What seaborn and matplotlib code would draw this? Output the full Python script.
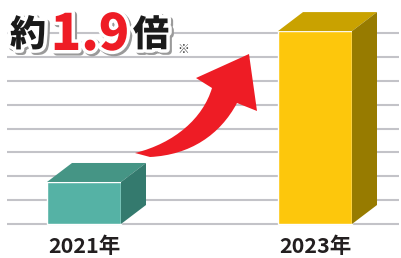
import numpy as np
import pandas as pd
import seaborn as sns
import matplotlib.pyplot as plt
import matplotlib.patheffects as pe
from matplotlib.patches import Polygon, PathPatch
from matplotlib.path import Path
from matplotlib.transforms import Affine2D

# data (values in grid-line units)
years = ['2021年', '2023年']
values = [1.76, 8.08]
front_colors = ['#55B2A5', '#FDC70C']
top_colors = ['#459585', '#C9A200']
side_colors = ['#347A6E', '#977B00']

sns.set_style('white')
plt.rcParams['font.family'] = ['Noto Sans CJK JP', 'DejaVu Sans']

W, H = 401, 258
fig = plt.figure(figsize=(W / 100, H / 100), dpi=100)

# axes placed in pixel terms
ax_left, ax_right, ax_top, ax_bottom = 7, 399, 0, 228
ax = fig.add_axes([ax_left / W, 1 - ax_bottom / H,
                   (ax_right - ax_left) / W, (ax_bottom - ax_top) / H])

grid_px = 23.875   # pixels per grid unit
cat_px = 231       # pixels between bar centres

df = pd.DataFrame({'year': years, 'value': values})
sns.barplot(data=df, x='year', y='value', hue='year', palette=front_colors,
            width=74 / cat_px, legend=False, ax=ax, saturation=1, zorder=3)

ax.set_xlim(-(84 - ax_left) / cat_px, 1 + (ax_right - 315) / cat_px)
ax.set_ylim(-(ax_bottom - 224) / grid_px, (224 - ax_top) / grid_px)

# 3d faces: depth offset in data units
dx = 25 / cat_px
dy = 19 / grid_px
for p, tc, sc in zip(ax.patches, top_colors, side_colors):
    x0 = p.get_x()
    x1 = x0 + p.get_width()
    h = p.get_height()
    ax.add_patch(Polygon([(x0, h), (x1, h), (x1 + dx, h + dy), (x0 + dx, h + dy)],
                         closed=True, facecolor=tc, edgecolor='none', zorder=3))
    ax.add_patch(Polygon([(x1, 0), (x1 + dx, dy), (x1 + dx, h + dy), (x1, h)],
                         closed=True, facecolor=sc, edgecolor='none', zorder=3))

ax.set_yticks(range(0, 9))
ax.yaxis.grid(True, color='#C3C3C8', linewidth=1.5)
ax.set_axisbelow(True)
ax.tick_params(axis='y', left=False, labelleft=False)
ax.tick_params(axis='x', bottom=False, pad=2, labelsize=15.5, labelcolor='#231F20')
for lbl in ax.get_xticklabels():
    lbl.set_fontweight('bold')
ax.set_xlabel('')
ax.set_ylabel('')
sns.despine(ax=ax, left=True, bottom=True)
ax.patch.set_alpha(0)

# curved red arrow (pixel coordinates, y downward)
px = Affine2D().scale(1 / W, -1 / H).translate(0, 1) + fig.transFigure
verts = [(135, 153), (175, 143), (203, 118), (212, 88), (196, 78), (249, 54),
         (257, 111), (237, 103), (220, 135), (190, 155), (150, 157), (135, 153)]
codes = [Path.MOVETO, Path.CURVE4, Path.CURVE4, Path.CURVE4, Path.LINETO,
         Path.LINETO, Path.LINETO, Path.LINETO, Path.CURVE4, Path.CURVE4,
         Path.CURVE4, Path.CLOSEPOLY]
fig.patches.append(PathPatch(Path(verts, codes), transform=px,
                             facecolor='#EE1C25', edgecolor='none', zorder=5))

# headline
fx = lambda x: x / W
fy = lambda y: 1 - y / H
effects = [pe.Stroke(linewidth=5, foreground='#9A9A9A', offset=(1.5, -1.5)),
           pe.Stroke(linewidth=5, foreground='white'), pe.Normal()]
fig.text(fx(28), fy(46), '約', fontsize=26, fontweight='heavy', color='#1A1A1A',
         ha='center', va='baseline', path_effects=effects)
fig.text(fx(90), fy(50), '1.9', fontsize=36, fontweight='heavy', color='#EE1C25',
         ha='center', va='baseline', path_effects=effects)
fig.text(fx(151), fy(46), '倍', fontsize=26, fontweight='heavy', color='#1A1A1A',
         ha='center', va='baseline', path_effects=effects)
fig.text(fx(183), fy(53), '※', fontsize=8.5, color='#333333', ha='center', va='baseline')

fig.savefig('out.png', dpi=100)
